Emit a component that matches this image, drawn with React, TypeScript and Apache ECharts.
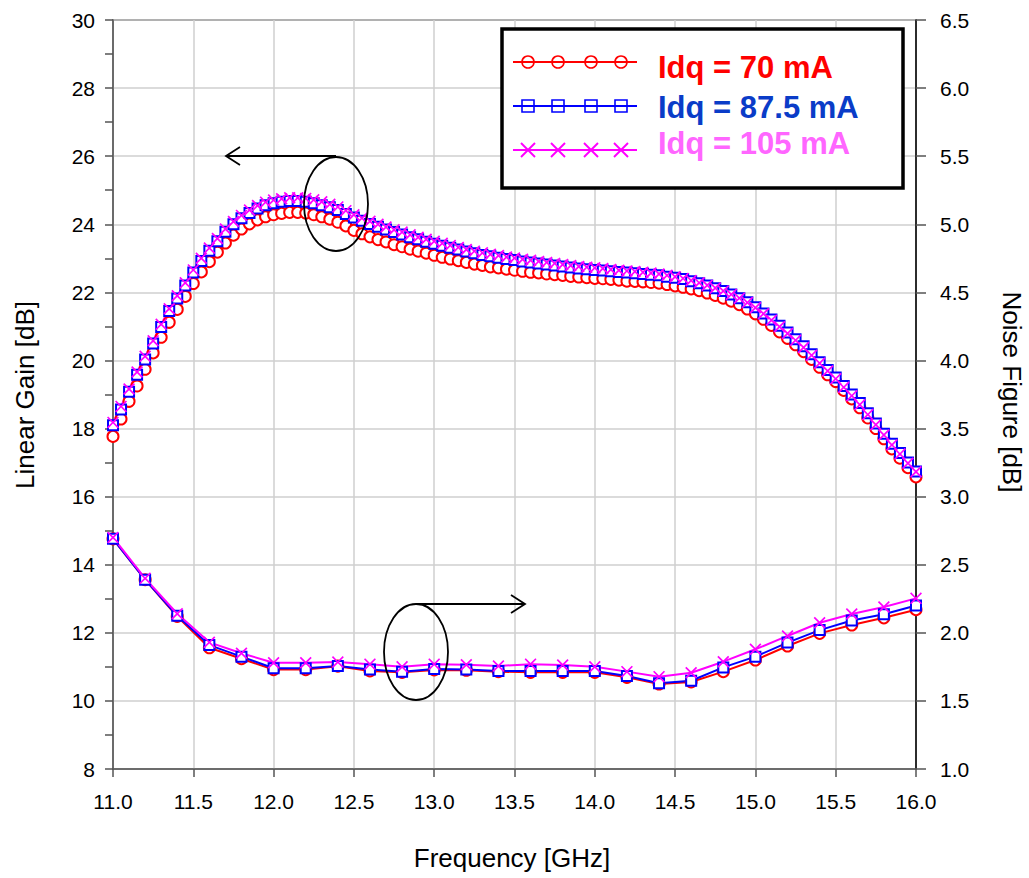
import React, { useEffect, useRef } from "react";
import * as echarts from "echarts";

const gainFreqStart = 11.0;
const gainFreqStep = 0.05;

const gain70 = [
  17.77, 18.28, 18.8, 19.25, 19.74, 20.22, 20.68, 21.12, 21.5, 21.88,
  22.26, 22.6, 22.9, 23.18, 23.45, 23.68, 23.86, 24.01, 24.13, 24.22,
  24.28, 24.32, 24.35, 24.35, 24.33, 24.28, 24.22, 24.15, 24.06, 23.95,
  23.82, 23.72, 23.63, 23.55, 23.48, 23.4, 23.34, 23.27, 23.21, 23.15,
  23.09, 23.03, 22.98, 22.93, 22.88, 22.83, 22.79, 22.75, 22.72, 22.68,
  22.65, 22.62, 22.59, 22.57, 22.54, 22.52, 22.5, 22.47, 22.45, 22.43,
  22.41, 22.4, 22.38, 22.36, 22.33, 22.32, 22.31, 22.29, 22.27, 22.23,
  22.19, 22.15, 22.1, 22.05, 21.98, 21.91, 21.83, 21.74, 21.64, 21.51,
  21.37, 21.21, 21.03, 20.84, 20.65, 20.46, 20.26, 20.03, 19.8, 19.58,
  19.38, 19.12, 18.87, 18.61, 18.31, 18.0, 17.7, 17.4, 17.13, 16.85,
  16.58,
];

const gain875 = [
  18.1, 18.56, 19.08, 19.58, 20.03, 20.5, 20.98, 21.45, 21.82, 22.2,
  22.58, 22.92, 23.22, 23.5, 23.78, 24.0, 24.18, 24.33, 24.46, 24.56,
  24.62, 24.66, 24.68, 24.68, 24.66, 24.62, 24.56, 24.5, 24.42, 24.3,
  24.2, 24.1, 24.01, 23.93, 23.85, 23.77, 23.7, 23.62, 23.56, 23.49,
  23.43, 23.37, 23.31, 23.26, 23.2, 23.15, 23.1, 23.06, 23.02, 22.98,
  22.95, 22.91, 22.88, 22.85, 22.82, 22.79, 22.76, 22.73, 22.7, 22.68,
  22.66, 22.64, 22.62, 22.6, 22.58, 22.56, 22.54, 22.52, 22.5, 22.46,
  22.43, 22.39, 22.33, 22.27, 22.2, 22.12, 22.04, 21.94, 21.83, 21.71,
  21.56, 21.38, 21.2, 21.02, 20.82, 20.62, 20.42, 20.18, 19.95, 19.72,
  19.5, 19.25, 19.0, 18.75, 18.45, 18.15, 17.85, 17.55, 17.28, 17.0,
  16.74,
];

const gain105 = [
  18.18, 18.65, 19.16, 19.66, 20.12, 20.58, 21.06, 21.52, 21.9, 22.28,
  22.66, 23.0, 23.3, 23.58, 23.86, 24.08, 24.26, 24.42, 24.55, 24.65,
  24.71, 24.75, 24.78, 24.78, 24.76, 24.72, 24.66, 24.59, 24.51, 24.4,
  24.28, 24.18, 24.09, 24.0, 23.92, 23.84, 23.77, 23.69, 23.62, 23.56,
  23.5, 23.44, 23.38, 23.32, 23.26, 23.21, 23.16, 23.12, 23.08, 23.04,
  23.01, 22.97, 22.94, 22.91, 22.88, 22.85, 22.82, 22.79, 22.76, 22.74,
  22.72, 22.7, 22.67, 22.65, 22.63, 22.61, 22.59, 22.57, 22.54, 22.5,
  22.46, 22.41, 22.35, 22.28, 22.21, 22.13, 22.04, 21.94, 21.83, 21.7,
  21.55, 21.37, 21.18, 20.99, 20.79, 20.59, 20.38, 20.15, 19.92, 19.69,
  19.46, 19.21, 18.96, 18.7, 18.41, 18.11, 17.81, 17.52, 17.25, 16.98,
  16.73,
];

const nfFreq = [
  11.0, 11.2, 11.4, 11.6, 11.8, 12.0, 12.2, 12.4, 12.6, 12.8, 13.0, 13.2, 13.4,
  13.6, 13.8, 14.0, 14.2, 14.4, 14.6, 14.8, 15.0, 15.2, 15.4, 15.6, 15.8, 16.0,
];

const nf70 = [
  2.69, 2.39, 2.12, 1.89, 1.81, 1.73, 1.73, 1.755, 1.72, 1.71, 1.727, 1.725,
  1.715, 1.71, 1.71, 1.71, 1.673, 1.624, 1.639, 1.715, 1.8, 1.903, 1.996,
  2.057, 2.11, 2.17,
];
const nf875 = [
  2.69, 2.39, 2.125, 1.91, 1.825, 1.74, 1.74, 1.756, 1.73, 1.715, 1.734, 1.73,
  1.72, 1.72, 1.72, 1.72, 1.683, 1.629, 1.648, 1.746, 1.825, 1.928, 2.02,
  2.09, 2.136, 2.2,
];
const nf105 = [
  2.7, 2.4, 2.14, 1.93, 1.85, 1.78, 1.78, 1.785, 1.77, 1.75, 1.77, 1.765,
  1.756, 1.77, 1.764, 1.75, 1.715, 1.678, 1.707, 1.788, 1.879, 1.977, 2.074,
  2.138, 2.19, 2.253,
];

const legendLabels = ["Idq = 70 mA", "Idq = 87.5 mA", "Idq = 105 mA"];

const RED = "#ff0000";
const BLUE = "#0000ff";
const MAG = "#ff00ff";
const legendTextColors = ["#ff0000", "#0a3cc8", "#ff66ff"];

const X_SYMBOL =
  "path://M0,1 L1,0 L5,4 L9,0 L10,1 L6,5 L10,9 L9,10 L5,6 L1,10 L0,9 L4,5 Z";

export default function App() {
  const ref = useRef<HTMLDivElement>(null);

  useEffect(() => {
    document.body.style.margin = "0";
    const chart = echarts.init(ref.current!, null, { renderer: "svg" });

    const gainPairs = (vals: number[]) =>
      vals.map((v, i) => [
        Math.round((gainFreqStart + i * gainFreqStep) * 100) / 100,
        v,
      ]);
    const nfPairs = (vals: number[]) => vals.map((v, i) => [nfFreq[i], v]);

    const font = "'Liberation Sans', Arial, sans-serif";

    const mk = (
      name: string,
      data: number[][],
      yIdx: number,
      color: string,
      symbol: string,
      size: number
    ) => ({
      name,
      type: "line",
      yAxisIndex: yIdx,
      data,
      symbol,
      symbolSize: size,
      showAllSymbol: true,
      lineStyle: { color, width: 2 },
      itemStyle: {
        color,
        borderColor: color,
        borderWidth: symbol === X_SYMBOL ? 0 : 2,
      },
      emphasis: { disabled: true },
      z: 3,
    });

    const legendY = [62, 106, 150];
    const legendTextY = [67, 107, 143];
    const markerXs = [528, 558, 591, 621];
    const legendColors = [RED, BLUE, MAG];

    const legendGraphics: any[] = [
      {
        type: "rect",
        shape: { x: 502, y: 29, width: 401, height: 159 },
        style: { fill: "#fff", stroke: "#000", lineWidth: 3.5 },
        z: 10,
      },
    ];
    legendColors.forEach((c, k) => {
      legendGraphics.push({
        type: "line",
        shape: { x1: 513, y1: legendY[k], x2: 637, y2: legendY[k] },
        style: { stroke: c, lineWidth: 2 },
        z: 11,
      });
      markerXs.forEach((mx) => {
        if (k === 0) {
          legendGraphics.push({
            type: "circle",
            shape: { cx: mx, cy: legendY[k], r: 6 },
            style: { fill: "none", stroke: c, lineWidth: 1.6 },
            z: 12,
          });
        } else if (k === 1) {
          legendGraphics.push({
            type: "rect",
            shape: { x: mx - 6, y: legendY[k] - 6, width: 12, height: 12 },
            style: { fill: "none", stroke: c, lineWidth: 1.6 },
            z: 12,
          });
        } else {
          legendGraphics.push({
            type: "line",
            shape: { x1: mx - 7, y1: legendY[k] - 7, x2: mx + 7, y2: legendY[k] + 7 },
            style: { stroke: c, lineWidth: 2 },
            z: 12,
          });
          legendGraphics.push({
            type: "line",
            shape: { x1: mx - 7, y1: legendY[k] + 7, x2: mx + 7, y2: legendY[k] - 7 },
            style: { stroke: c, lineWidth: 2 },
            z: 12,
          });
        }
      });
      legendGraphics.push({
        type: "text",
        x: 658,
        y: legendTextY[k],
        style: {
          text: legendLabels[k],
          fill: legendTextColors[k],
          font: `bold 31px ${font}`,
          textAlign: "left",
          textVerticalAlign: "middle",
        },
        z: 12,
      });
    });

    const annot: any[] = [
      {
        type: "ellipse",
        shape: { cx: 336, cy: 204, rx: 32, ry: 47 },
        style: { fill: "none", stroke: "#000", lineWidth: 1.8 },
        z: 8,
      },
      {
        type: "polyline",
        shape: { points: [[336, 156], [226, 156]] },
        style: { stroke: "#000", lineWidth: 1.8, fill: "none" },
        z: 8,
      },
      {
        type: "polyline",
        shape: { points: [[240, 147], [226, 156], [240, 165]] },
        style: { stroke: "#000", lineWidth: 1.8, fill: "none" },
        z: 8,
      },
      {
        type: "ellipse",
        shape: { cx: 416, cy: 652, rx: 32, ry: 48 },
        style: { fill: "none", stroke: "#000", lineWidth: 1.8 },
        z: 8,
      },
      {
        type: "polyline",
        shape: { points: [[416, 604], [525, 604]] },
        style: { stroke: "#000", lineWidth: 1.8, fill: "none" },
        z: 8,
      },
      {
        type: "polyline",
        shape: { points: [[511, 595], [525, 604], [511, 613]] },
        style: { stroke: "#000", lineWidth: 1.8, fill: "none" },
        z: 8,
      },
      {
        type: "text",
        x: 25,
        y: 395,
        rotation: Math.PI / 2,
        style: {
          text: "Linear Gain [dB]",
          fill: "#000",
          font: `26px ${font}`,
          textAlign: "center",
          textVerticalAlign: "middle",
        },
      },
      {
        type: "text",
        x: 1012,
        y: 392,
        rotation: -Math.PI / 2,
        style: {
          text: "Noise Figure [dB]",
          fill: "#000",
          font: `26px ${font}`,
          textAlign: "center",
          textVerticalAlign: "middle",
        },
      },
      {
        type: "text",
        x: 512,
        y: 858,
        style: {
          text: "Frequency [GHz]",
          fill: "#000",
          font: `26px ${font}`,
          textAlign: "center",
          textVerticalAlign: "middle",
        },
      },
    ];

    const gridLine = { show: true, lineStyle: { color: "#cfcfcf", width: 1.5 } };

    chart.setOption({
      animation: false,
      backgroundColor: "#fff",
      grid: {
        left: 113,
        top: 20,
        width: 803,
        height: 749,
        show: true,
        borderColor: "#222",
        borderWidth: 1.5,
        backgroundColor: "transparent",
      },
      xAxis: {
        type: "value",
        min: 11,
        max: 16,
        interval: 0.5,
        axisLine: { show: true, lineStyle: { color: "#555", width: 1.5 } },
        axisTick: { show: true, inside: false, length: 8, lineStyle: { color: "#555", width: 1.5 } },
        axisLabel: {
          margin: 22,
          color: "#000",
          fontSize: 21,
          fontFamily: font,
          formatter: (v: number) => v.toFixed(1),
        },
        splitLine: gridLine,
      },
      yAxis: [
        {
          type: "value",
          min: 8,
          max: 30,
          interval: 2,
          axisLine: { show: true, lineStyle: { color: "#555", width: 1.5 } },
          axisTick: { show: true, length: 8, lineStyle: { color: "#555", width: 1.5 } },
          minorTick: { show: true, splitNumber: 2, length: 8, lineStyle: { color: "#555", width: 1.5 } },
          axisLabel: { margin: 18, color: "#000", fontSize: 21, fontFamily: font },
          splitLine: gridLine,
        },
        {
          type: "value",
          min: 1.0,
          max: 6.5,
          interval: 0.5,
          position: "right",
          axisLine: { show: true, lineStyle: { color: "#000", width: 1.5 } },
          axisTick: { show: true, length: 10, lineStyle: { color: "#555", width: 1.5 } },
          axisLabel: {
            margin: 24,
            color: "#000",
            fontSize: 21,
            fontFamily: font,
            formatter: (v: number) => v.toFixed(1),
          },
          splitLine: { show: false },
        },
      ],
      series: [
        mk("g70", gainPairs(gain70), 0, RED, "emptyCircle", 11),
        mk("g875", gainPairs(gain875), 0, BLUE, "emptyRect", 10),
        mk("g105", gainPairs(gain105), 0, MAG, X_SYMBOL, 12),
        mk("n70", nfPairs(nf70), 1, RED, "emptyCircle", 11),
        mk("n875", nfPairs(nf875), 1, BLUE, "emptyRect", 10),
        mk("n105", nfPairs(nf105), 1, MAG, X_SYMBOL, 12),
      ],
      graphic: [...annot, ...legendGraphics],
    });

    return () => chart.dispose();
  }, []);

  return <div ref={ref} style={{ width: 1029, height: 878 }} />;
}
